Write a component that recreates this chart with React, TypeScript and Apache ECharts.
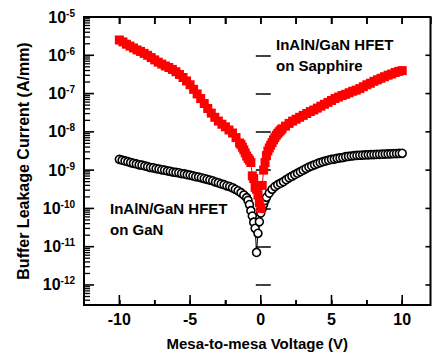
import React, { useEffect, useRef } from "react";
import * as echarts from "echarts";

const X_MIN = -12.5;
const X_MAX = 12;
const Y_MIN = 3e-13;
const Y_MAX = 1e-5;

// InAlN/GaN HFET on Sapphire (red squares)
const sapphireV = [
  -10, -9.75, -9.5, -9.25, -9, -8.75, -8.5, -8.25, -8, -7.75, -7.5, -7.25, -7, -6.75, -6.5, -6.25,
  -6, -5.75, -5.5, -5.25, -5, -4.75, -4.5, -4.25, -4, -3.75, -3.5, -3.25, -3, -2.75, -2.5, -2.25,
  -2, -1.75, -1.5, -1.4, -1.3, -1.2, -1.1, -1.0, -0.9, -0.8, -0.7, -0.6, -0.5, -0.4, -0.3, -0.2,
  -0.1, 0, 0.1, 0.2, 0.3, 0.4, 0.5, 0.6, 0.7, 0.8, 0.9, 1.0, 1.1, 1.2, 1.3, 1.4, 1.5, 1.75, 2,
  2.25, 2.5, 2.75, 3, 3.25, 3.5, 3.75, 4, 4.25, 4.5, 4.75, 5, 5.25, 5.5, 5.75, 6, 6.25, 6.5, 6.75,
  7, 7.25, 7.5, 7.75, 8, 8.25, 8.5, 8.75, 9, 9.25, 9.5, 9.75, 10,
];
const sapphireI = [
  2.51e-6, 2.24e-6, 1.95e-6, 1.74e-6, 1.55e-6, 1.38e-6, 1.26e-6, 1.12e-6, 1.0e-6, 8.71e-7, 7.59e-7,
  6.61e-7, 5.89e-7, 5.25e-7, 4.79e-7, 4.27e-7, 3.72e-7, 3.16e-7, 2.63e-7, 2.14e-7, 1.7e-7, 1.29e-7,
  9.77e-8, 7.41e-8, 5.5e-8, 4.07e-8, 3.09e-8, 2.4e-8, 1.91e-8, 1.58e-8, 1.35e-8, 1.12e-8, 9.33e-9,
  7.08e-9, 5.13e-9, 4.68e-9, 3.98e-9, 3.39e-9, 2.82e-9, 2.34e-9, 2.04e-9, 1.82e-9, 1.58e-9,
  7.08e-10, 6.03e-10, 3.55e-10, 3.16e-10, 2.24e-10, 1.41e-10, 1.0e-10, 3.98e-10, 1.0e-9, 1.58e-9,
  2.4e-9, 3.16e-9, 3.8e-9, 4.47e-9, 5.25e-9, 6.17e-9, 7.08e-9, 8.13e-9, 9.12e-9, 1.0e-8, 1.1e-8,
  1.2e-8, 1.41e-8, 1.66e-8, 1.91e-8, 2.14e-8, 2.4e-8, 2.69e-8, 3.02e-8, 3.39e-8, 3.72e-8, 4.17e-8,
  4.68e-8, 5.25e-8, 5.89e-8, 6.61e-8, 7.41e-8, 8.13e-8, 8.91e-8, 9.55e-8, 1.05e-7, 1.15e-7,
  1.23e-7, 1.35e-7, 1.51e-7, 1.7e-7, 1.86e-7, 2.09e-7, 2.29e-7, 2.51e-7, 2.75e-7, 3.02e-7,
  3.24e-7, 3.55e-7, 3.8e-7, 3.98e-7,
];

// InAlN/GaN HFET on GaN (open black circles)
const ganV = [
  -10, -9.8, -9.6, -9.4, -9.2, -9, -8.8, -8.6, -8.4, -8.2, -8, -7.8, -7.6, -7.4, -7.2, -7, -6.8,
  -6.6, -6.4, -6.2, -6, -5.8, -5.6, -5.4, -5.2, -5, -4.8, -4.6, -4.4, -4.2, -4, -3.8, -3.6, -3.4,
  -3.2, -3, -2.8, -2.6, -2.4, -2.2, -2, -1.8, -1.6, -1.4, -1.2, -1.0, -0.9, -0.8, -0.7, -0.6, -0.5,
  -0.4, -0.3, -0.2, -0.1, 0, 0.1, 0.2, 0.3, 0.4, 0.6, 0.8, 1.0, 1.2, 1.4, 1.6, 1.8, 2, 2.2, 2.4,
  2.6, 2.8, 3, 3.2, 3.4, 3.6, 3.8, 4, 4.2, 4.4, 4.6, 4.8, 5, 5.2, 5.4, 5.6, 5.8, 6, 6.2, 6.4, 6.6,
  6.8, 7, 7.2, 7.4, 7.6, 7.8, 8, 8.2, 8.4, 8.6, 8.8, 9, 9.2, 9.4, 9.6, 9.8, 10,
];
const ganI = [
  1.91e-9, 1.82e-9, 1.74e-9, 1.66e-9, 1.58e-9, 1.51e-9, 1.45e-9, 1.38e-9, 1.35e-9, 1.29e-9, 1.23e-9,
  1.17e-9, 1.15e-9, 1.1e-9, 1.07e-9, 1.02e-9, 1.0e-9, 9.55e-10, 9.33e-10, 8.91e-10, 8.71e-10,
  8.51e-10, 8.13e-10, 7.94e-10, 7.59e-10, 7.41e-10, 7.08e-10, 6.76e-10, 6.61e-10, 6.31e-10,
  6.03e-10, 5.75e-10, 5.5e-10, 5.25e-10, 4.9e-10, 4.68e-10, 4.37e-10, 4.17e-10, 3.89e-10, 3.72e-10,
  3.47e-10, 3.16e-10, 2.88e-10, 2.57e-10, 2.24e-10, 1.91e-10, 1.62e-10, 1.26e-10, 8.71e-11,
  6.31e-11, 4.37e-11, 3.02e-11, 7.08e-12, 2.24e-11, 4.47e-11, 7.59e-11, 1.0e-10, 1.29e-10,
  1.62e-10, 1.95e-10, 2.51e-10, 3.16e-10, 3.72e-10, 4.17e-10, 4.57e-10, 5.01e-10, 5.62e-10,
  6.31e-10, 6.92e-10, 7.59e-10, 8.32e-10, 9.12e-10, 1.0e-9, 1.1e-9, 1.2e-9, 1.29e-9, 1.38e-9,
  1.48e-9, 1.58e-9, 1.66e-9, 1.74e-9, 1.82e-9, 1.91e-9, 1.95e-9, 2.04e-9, 2.09e-9, 2.14e-9,
  2.24e-9, 2.29e-9, 2.34e-9, 2.38e-9, 2.42e-9, 2.45e-9, 2.47e-9, 2.49e-9, 2.51e-9, 2.53e-9,
  2.55e-9, 2.57e-9, 2.59e-9, 2.61e-9, 2.63e-9, 2.65e-9, 2.67e-9, 2.69e-9, 2.71e-9, 2.73e-9, 2.75e-9,
];

const xMajorTicks = [-10, -5, 0, 5, 10];
const xMinorTicks = [-7.5, -2.5, 2.5, 7.5];
const yMajorTicks = [1e-12, 1e-11, 1e-10, 1e-9, 1e-8, 1e-7, 1e-6];
const yMinorTicks = [
  4e-13, 5e-13, 6e-13, 7e-13, 8e-13, 9e-13,
  2e-12, 3e-12, 4e-12, 5e-12, 6e-12, 7e-12, 8e-12, 9e-12,
  2e-11, 3e-11, 4e-11, 5e-11, 6e-11, 7e-11, 8e-11, 9e-11,
  2e-10, 3e-10, 4e-10, 5e-10, 6e-10, 7e-10, 8e-10, 9e-10,
  2e-9, 3e-9, 4e-9, 5e-9, 6e-9, 7e-9, 8e-9, 9e-9,
  2e-8, 3e-8, 4e-8, 5e-8, 6e-8, 7e-8, 8e-8, 9e-8,
  2e-7, 3e-7, 4e-7, 5e-7, 6e-7, 7e-7, 8e-7, 9e-7,
  2e-6, 3e-6, 4e-6, 5e-6, 6e-6, 7e-6, 8e-6, 9e-6,
];

const xTitle = "Mesa-to-mesa Voltage (V)";
const yTitle = "Buffer Leakage Current (A/mm)";
const labelSapphire = ["InAlN/GaN HFET", "on Sapphire"];
const labelGaN = ["InAlN/GaN HFET", "on GaN"];

const FONT = '"Liberation Sans", Arial, sans-serif';

// anchors just inside the plot edges
const X_LEFT = X_MIN + 0.005;
const X_RIGHT = X_MAX - 0.005;
const Y_BOTTOM = Y_MIN * 1.003;
const Y_TOP = Y_MAX * 0.997;

// a tick mark drawn as a thin rectangle symbol through the chart's own scales
function tickSeries(data: number[][], size: number[], offset: number[]) {
  return {
    type: "scatter",
    data,
    symbol: "rect",
    symbolSize: size,
    symbolOffset: offset,
    itemStyle: { color: "#000", opacity: 1 },
    silent: true,
    clip: false,
    z: 6,
  };
}

const tickLine = { color: "#000", width: 1.5 };

export default function App() {
  const ref = useRef<HTMLDivElement>(null);
  useEffect(() => {
    if (!ref.current) return;
    const chart = echarts.init(ref.current, null, { renderer: "svg" });
    const textFont = `bold 15px ${FONT}`;

    chart.setOption({
      animation: false,
      backgroundColor: "#fff",
      grid: {
        left: 84,
        right: 1.5,
        top: 17,
        bottom: 50,
        show: true,
        borderColor: "#000",
        borderWidth: 2,
      },
      xAxis: [
        {
          type: "value",
          min: X_MIN,
          max: X_MAX,
          interval: 2.5,
          axisLine: { show: false },
          axisTick: { show: true, inside: true, length: 5, lineStyle: tickLine },
          splitLine: { show: false },
          axisLabel: {
            margin: 6,
            showMinLabel: false,
            showMaxLabel: false,
            color: "#000",
            fontFamily: FONT,
            fontWeight: "bold",
            fontSize: 16,
            formatter: (v: number) => (v % 5 === 0 ? String(v) : ""),
          },
          name: xTitle,
          nameLocation: "middle",
          nameGap: 31,
          nameTextStyle: { color: "#000", fontFamily: FONT, fontWeight: "bold", fontSize: 15 },
        },
        {
          type: "value",
          position: "top",
          min: X_MIN,
          max: X_MAX,
          interval: 2.5,
          axisLine: { show: false },
          axisTick: { show: true, inside: true, length: 7, lineStyle: tickLine },
          splitLine: { show: false },
          axisLabel: { show: false },
        },
      ],
      yAxis: [
        {
          type: "log",
          logBase: 10,
          min: Y_MIN,
          max: Y_MAX,
          axisLine: { show: false },
          axisTick: { show: true, inside: true, length: 10, lineStyle: tickLine },
          splitLine: { show: false },
          axisLabel: {
            margin: 9,
            showMinLabel: false,
            color: "#000",
            formatter: (v: number) => `{b|10}{s|${Math.round(Math.log10(v))}}`,
            rich: {
              b: { fontFamily: FONT, fontWeight: "bold", fontSize: 16, color: "#000", lineHeight: 18 },
              s: { fontFamily: FONT, fontWeight: "bold", fontSize: 10, color: "#000", verticalAlign: "top", lineHeight: 18 },
            },
          },
          name: yTitle,
          nameLocation: "middle",
          nameGap: 51,
          nameTextStyle: { color: "#000", fontFamily: FONT, fontWeight: "bold", fontSize: 16 },
        },
        {
          type: "log",
          logBase: 10,
          position: "right",
          min: Y_MIN,
          max: Y_MAX,
          axisLine: { show: false },
          axisTick: { show: true, inside: true, length: 5, lineStyle: tickLine },
          splitLine: { show: false },
          axisLabel: { show: false },
        },
      ],
      series: [
        {
          type: "line",
          data: ganV.map((v, i) => [v, ganI[i]]),
          symbol: "circle",
          symbolSize: 8,
          itemStyle: { color: "#fff", borderColor: "#000", borderWidth: 1.6 },
          lineStyle: { color: "#000", width: 1 },
          z: 2,
        },
        {
          type: "line",
          data: sapphireV.map((v, i) => [v, sapphireI[i]]),
          symbol: "rect",
          symbolSize: 9,
          itemStyle: { color: "#ff0000" },
          lineStyle: { color: "#ff0000", width: 1 },
          z: 3,
        },
        // bottom major ticks (longer, inward)
        tickSeries(xMajorTicks.map((v) => [v, Y_BOTTOM]), [1.6, 10], [0, -5]),
        // bottom minor ticks
        tickSeries(xMinorTicks.map((v) => [v, Y_BOTTOM]), [1.6, 5], [0, -2.5]),
        // top ticks
        tickSeries([...xMajorTicks, ...xMinorTicks].map((v) => [v, Y_TOP]), [1.6, 7], [0, 3.5]),
        // left decade ticks
        tickSeries(yMajorTicks.map((v) => [X_LEFT, v]), [10, 1.6], [5, 0]),
        // left minor (logarithmic) ticks
        tickSeries(yMinorTicks.map((v) => [X_LEFT, v]), [6, 1.3], [3, 0]),
        // right decade ticks
        tickSeries(yMajorTicks.map((v) => [X_RIGHT, v]), [5, 1.6], [-2.5, 0]),
      ],
      graphic: [
        { type: "text", x: 276, y: 44, style: { text: labelSapphire[0], font: textFont, fill: "#000", verticalAlign: "middle" } },
        { type: "text", x: 276, y: 65, style: { text: labelSapphire[1], font: textFont, fill: "#000", verticalAlign: "middle" } },
        { type: "text", x: 110, y: 208, style: { text: labelGaN[0], font: textFont, fill: "#000", verticalAlign: "middle" } },
        { type: "text", x: 110, y: 229, style: { text: labelGaN[1], font: textFont, fill: "#000", verticalAlign: "middle" } },
      ],
    });

    return () => chart.dispose();
  }, []);
  return (
    <div
      ref={ref}
      style={{ position: "absolute", left: 0, top: 0, width: 432, height: 356, background: "#fff" }}
    />
  );
}
